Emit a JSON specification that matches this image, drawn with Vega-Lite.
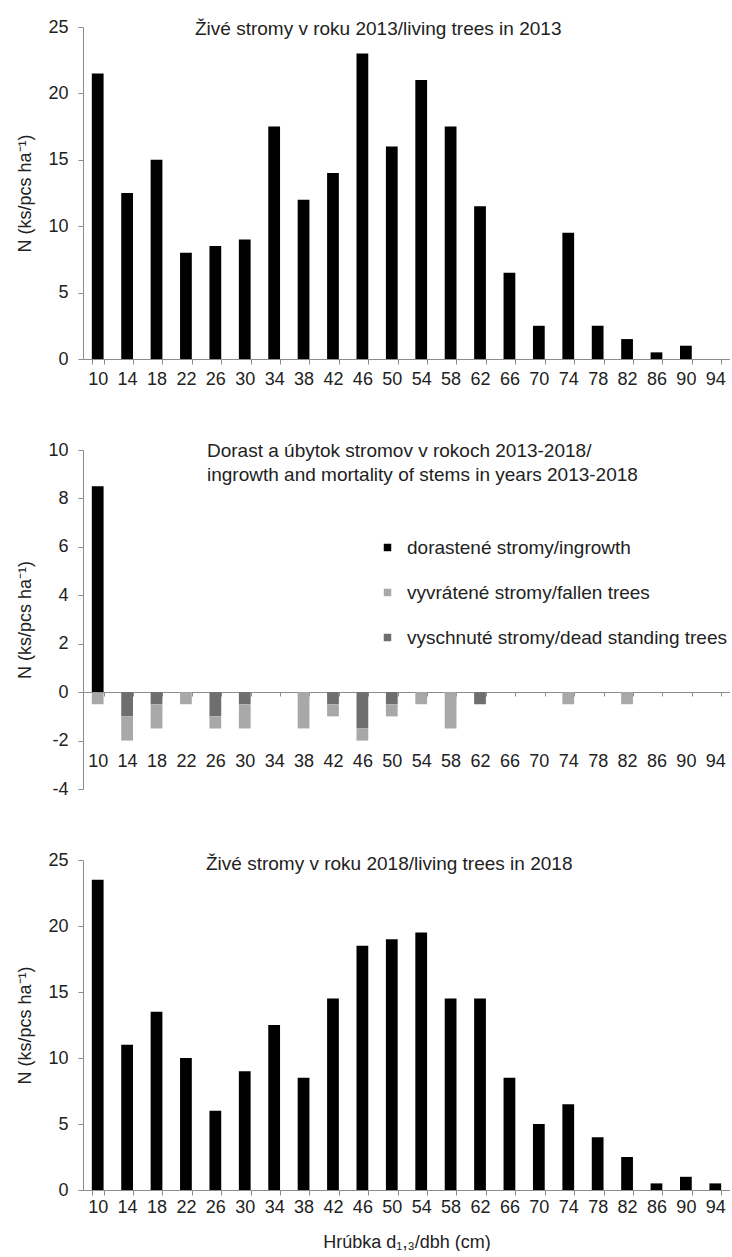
{
  "$schema": "https://vega.github.io/schema/vega-lite/v6.json",
  "padding": {"left": 16, "top": 18, "right": 0, "bottom": 0},
  "spacing": 53,
  "background": "white",
  "config": {
    "font": "Liberation Sans",
    "view": {"stroke": null},
    "axis": {
      "labelFont": "Liberation Sans",
      "labelFontSize": 18,
      "labelColor": "#222222",
      "domainColor": "#8c8c8c",
      "tickColor": "#8c8c8c",
      "grid": false,
      "titleFont": "Liberation Sans",
      "titleFontWeight": "normal",
      "titleFontSize": 18,
      "titleColor": "#222222"
    },
    "axisY": {"tickSize": 5, "labelPadding": 10, "titlePadding": 13, "labelExpr": "replace(datum.label, '−', '-')"},
    "axisX": {"tickBand": "extent", "tickSize": 5, "labelAngle": 0},
    "title": {"font": "Liberation Sans", "fontSize": 19, "fontWeight": "normal", "color": "#222222"},
    "legend": {"labelFont": "Liberation Sans", "labelFontSize": 19, "labelColor": "#222222", "labelLimit": 500}
  },
  "datasets": {
    "top": [
      {"d": 10, "n": 21.5}, {"d": 14, "n": 12.5}, {"d": 18, "n": 15}, {"d": 22, "n": 8},
      {"d": 26, "n": 8.5}, {"d": 30, "n": 9}, {"d": 34, "n": 17.5}, {"d": 38, "n": 12},
      {"d": 42, "n": 14}, {"d": 46, "n": 23}, {"d": 50, "n": 16}, {"d": 54, "n": 21},
      {"d": 58, "n": 17.5}, {"d": 62, "n": 11.5}, {"d": 66, "n": 6.5}, {"d": 70, "n": 2.5},
      {"d": 74, "n": 9.5}, {"d": 78, "n": 2.5}, {"d": 82, "n": 1.5}, {"d": 86, "n": 0.5},
      {"d": 90, "n": 1}, {"d": 94, "n": 0}
    ],
    "mid": [
      {"d": 10, "type": "dorastené stromy/ingrowth", "o": 0, "n": 8.5},
      {"d": 10, "type": "vyvrátené stromy/fallen trees", "o": 2, "n": -0.5},
      {"d": 14, "type": "vyschnuté stromy/dead standing trees", "o": 1, "n": -1},
      {"d": 14, "type": "vyvrátené stromy/fallen trees", "o": 2, "n": -1},
      {"d": 18, "type": "vyschnuté stromy/dead standing trees", "o": 1, "n": -0.5},
      {"d": 18, "type": "vyvrátené stromy/fallen trees", "o": 2, "n": -1},
      {"d": 22, "type": "vyvrátené stromy/fallen trees", "o": 2, "n": -0.5},
      {"d": 26, "type": "vyschnuté stromy/dead standing trees", "o": 1, "n": -1},
      {"d": 26, "type": "vyvrátené stromy/fallen trees", "o": 2, "n": -0.5},
      {"d": 30, "type": "vyschnuté stromy/dead standing trees", "o": 1, "n": -0.5},
      {"d": 30, "type": "vyvrátené stromy/fallen trees", "o": 2, "n": -1},
      {"d": 38, "type": "vyvrátené stromy/fallen trees", "o": 2, "n": -1.5},
      {"d": 42, "type": "vyschnuté stromy/dead standing trees", "o": 1, "n": -0.5},
      {"d": 42, "type": "vyvrátené stromy/fallen trees", "o": 2, "n": -0.5},
      {"d": 46, "type": "vyschnuté stromy/dead standing trees", "o": 1, "n": -1.5},
      {"d": 46, "type": "vyvrátené stromy/fallen trees", "o": 2, "n": -0.5},
      {"d": 50, "type": "vyschnuté stromy/dead standing trees", "o": 1, "n": -0.5},
      {"d": 50, "type": "vyvrátené stromy/fallen trees", "o": 2, "n": -0.5},
      {"d": 54, "type": "vyvrátené stromy/fallen trees", "o": 2, "n": -0.5},
      {"d": 58, "type": "vyvrátené stromy/fallen trees", "o": 2, "n": -1.5},
      {"d": 62, "type": "vyschnuté stromy/dead standing trees", "o": 1, "n": -0.5},
      {"d": 74, "type": "vyvrátené stromy/fallen trees", "o": 2, "n": -0.5},
      {"d": 82, "type": "vyvrátené stromy/fallen trees", "o": 2, "n": -0.5}
    ],
    "bot": [
      {"d": 10, "n": 23.5}, {"d": 14, "n": 11}, {"d": 18, "n": 13.5}, {"d": 22, "n": 10},
      {"d": 26, "n": 6}, {"d": 30, "n": 9}, {"d": 34, "n": 12.5}, {"d": 38, "n": 8.5},
      {"d": 42, "n": 14.5}, {"d": 46, "n": 18.5}, {"d": 50, "n": 19}, {"d": 54, "n": 19.5},
      {"d": 58, "n": 14.5}, {"d": 62, "n": 14.5}, {"d": 66, "n": 8.5}, {"d": 70, "n": 5},
      {"d": 74, "n": 6.5}, {"d": 78, "n": 4}, {"d": 82, "n": 2.5}, {"d": 86, "n": 0.5},
      {"d": 90, "n": 1}, {"d": 94, "n": 0.5}
    ]
  },
  "vconcat": [
    {
      "width": 647,
      "height": 332,
      "title": {"text": "Živé stromy v roku 2013/living trees in 2013", "anchor": "start", "dx": 112, "baseline": "middle", "offset": -30, "frame": "group"},
      "data": {"name": "top"},
      "mark": {"type": "bar", "color": "black"},
      "encoding": {
        "x": {"field": "d", "type": "ordinal", "title": null,
              "scale": {"domain": [10,14,18,22,26,30,34,38,42,46,50,54,58,62,66,70,74,78,82,86,90,94], "paddingInner": 0.6, "paddingOuter": 0.3},
              "axis": {"labelPadding": 6}},
        "y": {"field": "n", "type": "quantitative", "title": "N (ks/pcs ha⁻¹)",
              "scale": {"domain": [0, 25], "nice": false},
              "axis": {"values": [0, 5, 10, 15, 20, 25]}}
      }
    },
    {
      "width": 647,
      "height": 339,
      "title": {"text": ["Dorast a úbytok stromov v rokoch 2013-2018/", "ingrowth and mortality of stems in years 2013-2018"], "anchor": "start", "dx": 124, "baseline": "top", "offset": -44, "lineHeight": 24, "frame": "group"},
      "data": {"name": "mid"},
      "mark": {"type": "bar"},
      "encoding": {
        "x": {"field": "d", "type": "ordinal", "title": null,
              "scale": {"domain": [10,14,18,22,26,30,34,38,42,46,50,54,58,62,66,70,74,78,82,86,90,94], "paddingInner": 0.6, "paddingOuter": 0.3},
              "axis": {"offset": -97, "tickSize": 4, "labelPadding": 56}},
        "y": {"field": "n", "type": "quantitative", "title": "N (ks/pcs ha⁻¹)", "stack": "zero",
              "scale": {"domain": [-4, 10], "nice": false},
              "axis": {"values": [-4, -2, 0, 2, 4, 6, 8, 10]}},
        "order": {"field": "o", "type": "quantitative"},
        "color": {"field": "type", "type": "nominal",
                  "scale": {"domain": ["dorastené stromy/ingrowth", "vyvrátené stromy/fallen trees", "vyschnuté stromy/dead standing trees"], "range": ["#000000", "#a8a8a8", "#6e6e6e"]},
                  "legend": {"title": null, "orient": "none", "legendX": 295, "legendY": 511, "symbolType": "square", "symbolSize": 56, "symbolStrokeWidth": 0, "rowPadding": 25, "labelOffset": 10}}
      }
    },
    {
      "width": 647,
      "height": 330,
      "title": {"text": "Živé stromy v roku 2018/living trees in 2018", "anchor": "start", "dx": 123, "baseline": "middle", "offset": -32, "frame": "group"},
      "data": {"name": "bot"},
      "mark": {"type": "bar", "color": "black"},
      "encoding": {
        "x": {"field": "d", "type": "ordinal", "title": "Hrúbka d₁,₃/dbh (cm)",
              "scale": {"domain": [10,14,18,22,26,30,34,38,42,46,50,54,58,62,66,70,74,78,82,86,90,94], "paddingInner": 0.6, "paddingOuter": 0.3},
              "axis": {"labelPadding": 3, "titlePadding": 17, "titleFontSize": 18}},
        "y": {"field": "n", "type": "quantitative", "title": "N (ks/pcs ha⁻¹)",
              "scale": {"domain": [0, 25], "nice": false},
              "axis": {"values": [0, 5, 10, 15, 20, 25]}}
      }
    }
  ]
}
